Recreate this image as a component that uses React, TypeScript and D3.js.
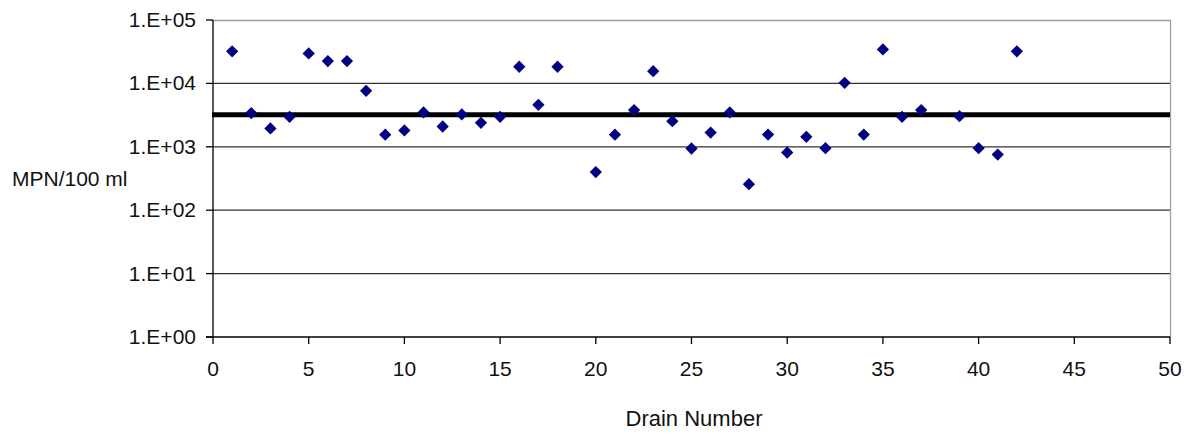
import React, { useEffect, useRef } from 'react';
import * as d3 from 'd3';

// drain numbers (19 and 38 have no sample)
const drains = [1, 2, 3, 4, 5, 6, 7, 8, 9, 10, 11, 12, 13, 14, 15, 16, 17, 18, 20, 21,
    22, 23, 24, 25, 26, 27, 28, 29, 30, 31, 32, 33, 34, 35, 36, 37, 39, 40, 41, 42];

// MPN/100 ml
const mpn = [32000, 3400, 1950, 2970, 29700, 22500, 22500, 7650, 1550, 1810, 3480, 2090, 3240, 2390, 2970, 18300, 4590, 18300, 400, 1550,
    3790, 15600, 2540, 940, 1680, 3480, 257, 1560, 813, 1435, 950, 10200, 1560, 34400, 2970, 3790, 3040, 950, 755, 32000];

// reference standard line
const standard = 3200;

const yTickValues = [1, 10, 100, 1000, 10000, 100000];
const yTickLabels = ['1.E+00', '1.E+01', '1.E+02', '1.E+03', '1.E+04', '1.E+05'];
const xTickValues = [0, 5, 10, 15, 20, 25, 30, 35, 40, 45, 50];

const font = 'Arial, "Liberation Sans", sans-serif';

function App() {
    const ref = useRef<SVGSVGElement>(null);

    const width = 1196;
    const height = 436;
    const margin = { top: 20, right: 26, bottom: 99, left: 213 };
    const plotRight = width - margin.right;
    const plotBottom = height - margin.bottom;

    useEffect(() => {
        drawChart();
    });

    function drawChart() {
        const svg = d3.select(ref.current);
        svg.selectAll('*').remove();

        const x = d3
            .scaleLinear()
            .domain([0, 50])
            .range([margin.left, plotRight])
        ;
        const y = d3
            .scaleLog()
            .domain([1, 100000])
            .range([plotBottom, margin.top])
        ;

        // gridlines
        svg.append('g')
            .selectAll('line')
            .data(yTickValues.slice(1, -1))
            .enter()
            .append('line')
            .attr('x1', margin.left)
            .attr('x2', plotRight)
            .attr('y1', d => y(d))
            .attr('y2', d => y(d))
            .style('stroke', '#333333')
            .style('stroke-width', 1.3)
        ;

        // plot frame (top and right, gray)
        svg.append('path')
            .attr('d', `M${margin.left},${margin.top + 0.5}H${plotRight + 0.5}V${plotBottom}`)
            .style('fill', 'none')
            .style('stroke', '#a0a0a0')
            .style('stroke-width', 1.3)
        ;

        // standard line
        svg.append('line')
            .attr('x1', x(0) - 1)
            .attr('x2', x(50))
            .attr('y1', y(standard))
            .attr('y2', y(standard))
            .style('stroke', '#000000')
            .style('stroke-width', 5)
        ;

        // y axis
        const yAxis = svg.append('g');
        yAxis.append('line')
            .attr('x1', margin.left)
            .attr('x2', margin.left)
            .attr('y1', margin.top)
            .attr('y2', plotBottom)
            .style('stroke', '#000')
            .style('stroke-width', 1.3)
        ;
        yAxis.selectAll('.tick')
            .data(yTickValues)
            .enter()
            .append('line')
            .attr('x1', margin.left - 7)
            .attr('x2', margin.left)
            .attr('y1', d => y(d))
            .attr('y2', d => y(d))
            .style('stroke', '#000')
            .style('stroke-width', 1.3)
        ;
        yAxis.selectAll('text')
            .data(yTickValues)
            .enter()
            .append('text')
            .attr('x', margin.left - 17)
            .attr('y', d => y(d) + 7)
            .attr('text-anchor', 'end')
            .style('font-family', font)
            .style('font-size', '21px')
            .style('fill', '#111')
            .text((_, i) => yTickLabels[i])
        ;

        // x axis
        const xAxis = svg.append('g');
        xAxis.append('line')
            .attr('x1', margin.left - 7)
            .attr('x2', plotRight)
            .attr('y1', plotBottom)
            .attr('y2', plotBottom)
            .style('stroke', '#000')
            .style('stroke-width', 1.3)
        ;
        xAxis.selectAll('.tick')
            .data(xTickValues)
            .enter()
            .append('line')
            .attr('x1', d => x(d))
            .attr('x2', d => x(d))
            .attr('y1', plotBottom)
            .attr('y2', plotBottom + 7)
            .style('stroke', '#000')
            .style('stroke-width', 1.3)
        ;
        xAxis.selectAll('text')
            .data(xTickValues)
            .enter()
            .append('text')
            .attr('x', d => x(d))
            .attr('y', plotBottom + 39)
            .attr('text-anchor', 'middle')
            .style('font-family', font)
            .style('font-size', '21px')
            .style('fill', '#111')
            .text(d => String(d))
        ;

        // axis titles
        svg.append('text')
            .attr('x', 12)
            .attr('y', 186)
            .style('font-family', font)
            .style('font-size', '21px')
            .style('fill', '#111')
            .text('MPN/100 ml')
        ;
        svg.append('text')
            .attr('x', 694)
            .attr('y', 426)
            .attr('text-anchor', 'middle')
            .style('font-family', font)
            .style('font-size', '22px')
            .style('fill', '#111')
            .text('Drain Number')
        ;

        // points
        const diamond = d3.symbol().type(d3.symbolDiamond2 || d3.symbolDiamond).size(96);
        svg.append('g')
            .selectAll('path')
            .data(drains.map((d, i) => ({ drain: d, value: mpn[i] })))
            .enter()
            .append('path')
            .attr('d', diamond)
            .attr('transform', d => `translate(${x(d.drain)}, ${y(d.value)})`)
            .style('fill', '#000080')
        ;
    };

    return (
        <svg ref={ref} width={width} height={height}
            style={{ position: 'absolute', left: 0, top: 0, background: '#fff' }} />
    );
};

export default App;
